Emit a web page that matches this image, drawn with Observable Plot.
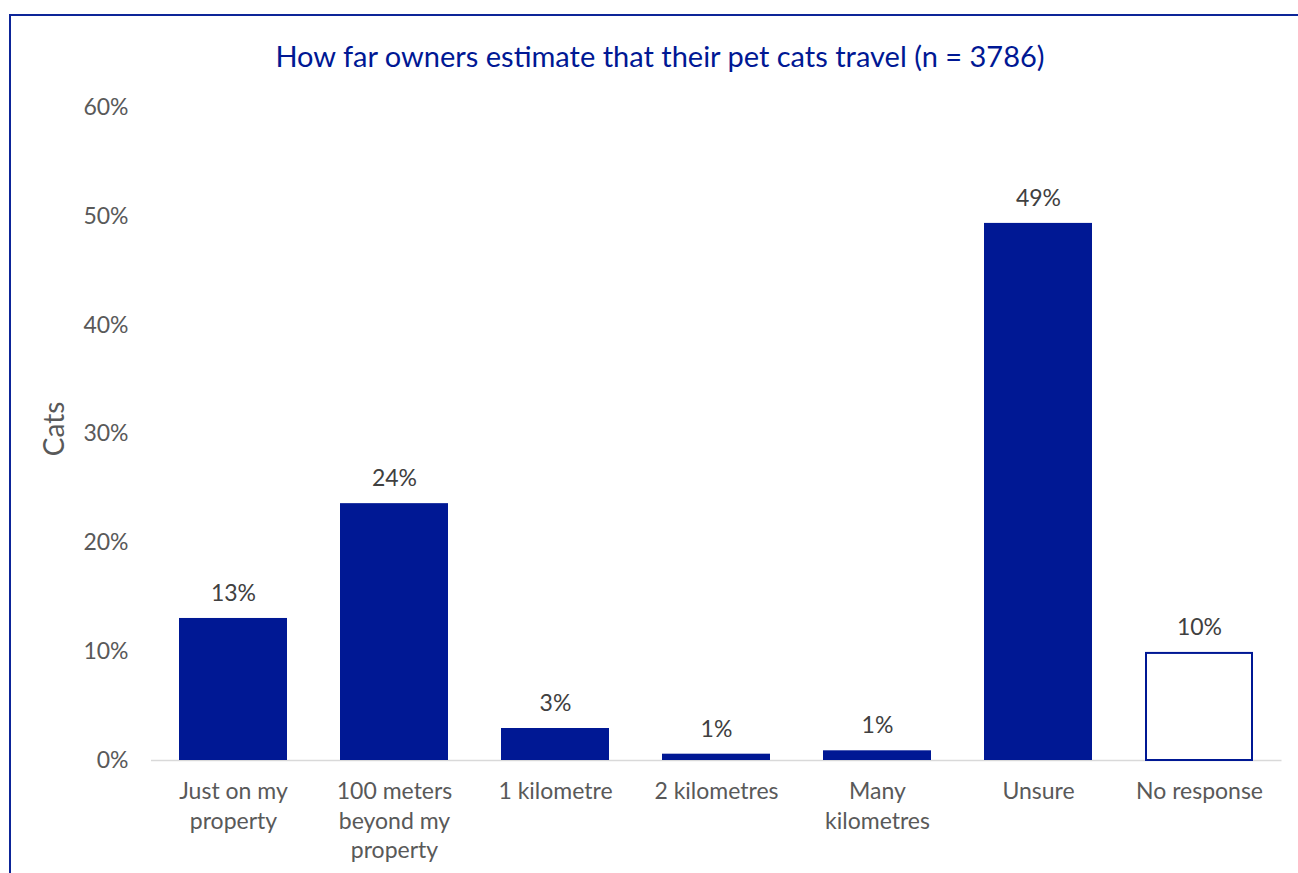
<!DOCTYPE html>
<html>
<head>
<meta charset="utf-8">
<script src="https://cdn.jsdelivr.net/npm/d3@7"></script>
<script src="https://cdn.jsdelivr.net/npm/@observablehq/plot@0.6"></script>
<style>
  html, body { margin: 0; padding: 0; background: #fff; overflow: hidden; }
  #frame { position: absolute; left: 9px; top: 14px; width: 1400px; height: 1000px; border: 2px solid #0d2598; box-sizing: border-box; }
  #title { position: absolute; left: 0; top: 38px; width: 1320px; text-align: center; font-family: Lato, sans-serif; font-size: 29px; color: #001894; }
  #chart { position: absolute; left: 0; top: 0; }
</style>
</head>
<body>
<div id="frame"></div>
<div id="title">How far owners estimate that their pet cats travel (n = 3786)</div>
<div id="chart"></div>
<script>
const categories = ["Just on my property", "100 meters beyond my property", "1 kilometre", "2 kilometres", "Many kilometres", "Unsure", "No response"];
const values = [0.1305, 0.236, 0.0294, 0.0058, 0.0089, 0.4935, 0.0993];
const tickLabels = ["Just on my\nproperty", "100 meters\nbeyond my\nproperty", "1 kilometre", "2 kilometres", "Many\nkilometres", "Unsure", "No response"];
const yTicks = [0, 0.1, 0.2, 0.3, 0.4, 0.5, 0.6];
const yLabel = "Cats";

const data = categories.map((c, i) => ({category: c, value: values[i]}));
const pct = d3.format(".0%");
const blue = "#001894";

const chart = Plot.plot({
  width: 1298,
  height: 873,
  marginLeft: 151,
  marginRight: 16.5,
  marginTop: 107,
  marginBottom: 113,
  style: {fontFamily: "Lato, sans-serif", background: "transparent", color: "#595959", overflow: "visible"},
  x: {domain: categories, paddingInner: 0.33, paddingOuter: 0.165, label: null},
  y: {domain: [0, 0.6], label: null},
  marks: [
    Plot.ruleY([0], {stroke: "#d9d9d9", strokeWidth: 1.5}),
    Plot.barY(data.filter(d => d.category !== "No response"), {x: "category", y: "value", fill: blue}),
    Plot.barY(data.filter(d => d.category === "No response"), {x: "category", y: "value", fill: "white", stroke: blue, strokeWidth: 2, insetLeft: 1, insetRight: 1, insetTop: 1}),
    Plot.text(data, {x: "category", y: "value", text: d => pct(d.value), dy: -25, lineAnchor: "middle", fontSize: 23, fill: "#404040"}),
    Plot.axisY({ticks: yTicks, tickFormat: pct, tickSize: 0, tickPadding: 23, fontSize: 23, label: null}),
    Plot.axisX({tickSize: 0, tickPadding: 18, tickFormat: d => tickLabels[categories.indexOf(d)], lineHeight: 1.28, fontSize: 23, label: null}),
    Plot.text([yLabel], {frameAnchor: "left", dx: -96, dy: -5, rotate: -90, textAnchor: "middle", fontSize: 28, fill: "#595959"})
  ]
});
document.getElementById("chart").appendChild(chart);
</script>
</body>
</html>
